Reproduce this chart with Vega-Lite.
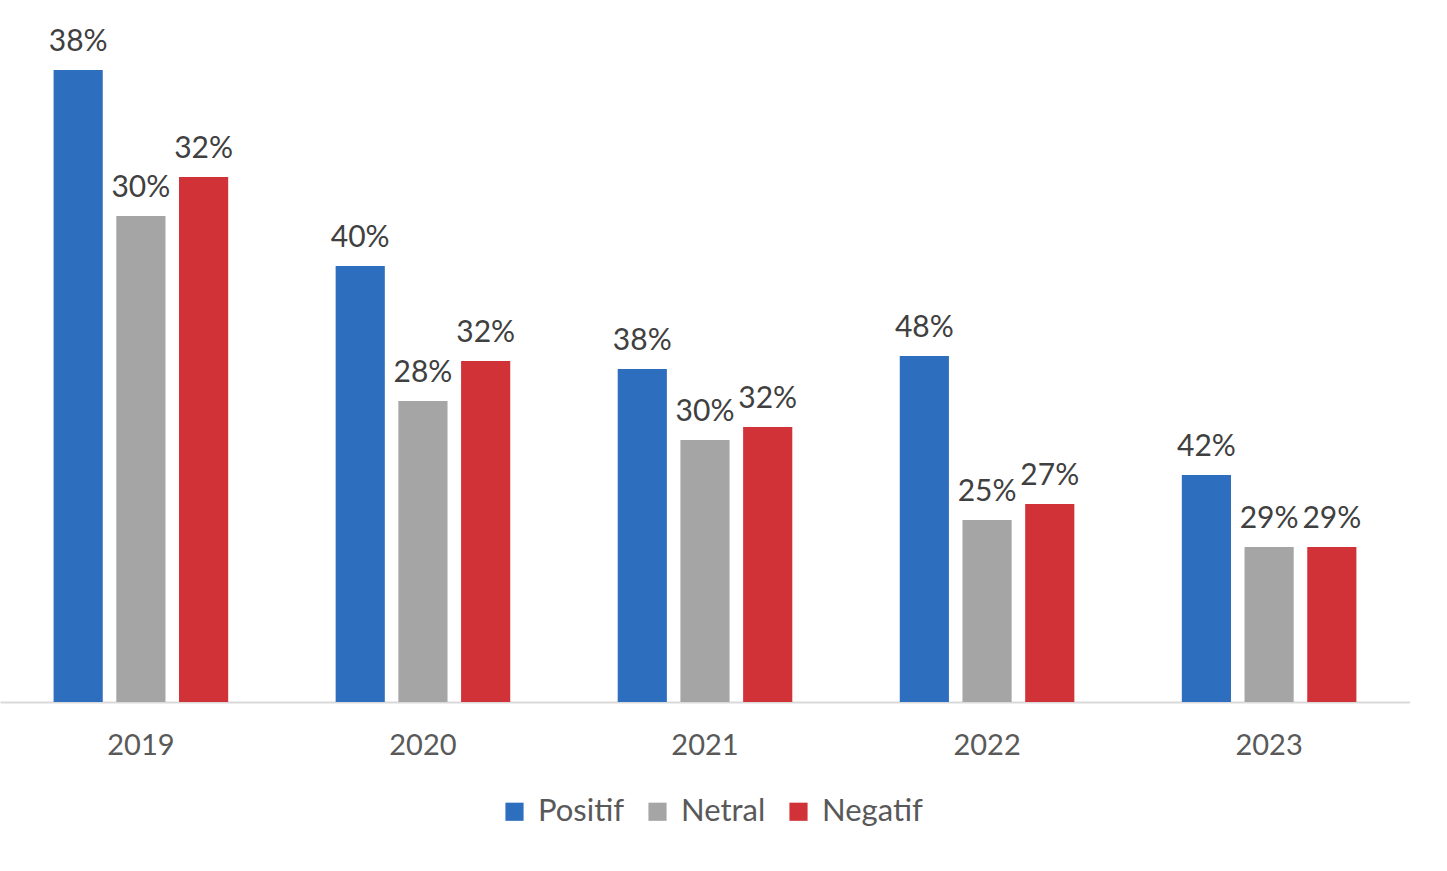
{
  "$schema": "https://vega.github.io/schema/vega-lite/v6.json",
  "width": 1410,
  "height": 700,
  "padding": {"top": 2, "left": 0, "right": 0, "bottom": 0},
  "autosize": {"type": "pad"},
  "background": "white",
  "config": {"view": {"stroke": null}, "font": "Lato"},
  "data": {
    "values": [
      {"tahun": "2019", "sentimen": "Positif", "jumlah": 632, "label": "38%"},
      {"tahun": "2019", "sentimen": "Netral", "jumlah": 486, "label": "30%"},
      {"tahun": "2019", "sentimen": "Negatif", "jumlah": 525, "label": "32%"},
      {"tahun": "2020", "sentimen": "Positif", "jumlah": 436, "label": "40%"},
      {"tahun": "2020", "sentimen": "Netral", "jumlah": 301, "label": "28%"},
      {"tahun": "2020", "sentimen": "Negatif", "jumlah": 341, "label": "32%"},
      {"tahun": "2021", "sentimen": "Positif", "jumlah": 333, "label": "38%"},
      {"tahun": "2021", "sentimen": "Netral", "jumlah": 262, "label": "30%"},
      {"tahun": "2021", "sentimen": "Negatif", "jumlah": 275, "label": "32%"},
      {"tahun": "2022", "sentimen": "Positif", "jumlah": 346, "label": "48%"},
      {"tahun": "2022", "sentimen": "Netral", "jumlah": 182, "label": "25%"},
      {"tahun": "2022", "sentimen": "Negatif", "jumlah": 198, "label": "27%"},
      {"tahun": "2023", "sentimen": "Positif", "jumlah": 227, "label": "42%"},
      {"tahun": "2023", "sentimen": "Netral", "jumlah": 155, "label": "29%"},
      {"tahun": "2023", "sentimen": "Negatif", "jumlah": 155, "label": "29%"}
    ]
  },
  "encoding": {
    "x": {
      "field": "tahun",
      "type": "nominal",
      "scale": {"paddingInner": 0.381, "paddingOuter": 0.19},
      "axis": {
        "title": null,
        "labelAngle": 0,
        "ticks": false,
        "grid": false,
        "domainColor": "#D9D9D9",
        "domainWidth": 2,
        "labelFontSize": 29,
        "labelColor": "#595959",
        "labelPadding": 29
      }
    },
    "xOffset": {
      "field": "sentimen",
      "type": "nominal",
      "sort": ["Positif", "Netral", "Negatif"],
      "scale": {"paddingInner": 0.216, "paddingOuter": 0}
    },
    "y": {
      "field": "jumlah",
      "type": "quantitative",
      "scale": {"domain": [0, 700], "nice": false},
      "axis": null
    }
  },
  "layer": [
    {
      "mark": {"type": "bar"},
      "encoding": {
        "color": {
          "field": "sentimen",
          "type": "nominal",
          "sort": ["Positif", "Netral", "Negatif"],
          "scale": {"domain": ["Positif", "Netral", "Negatif"], "range": ["#2E6EBE", "#A5A5A5", "#D13237"]},
          "legend": {
            "orient": "none",
            "legendX": 499,
            "legendY": 794,
            "direction": "horizontal",
            "title": null,
            "symbolType": "square",
            "symbolSize": 330,
            "symbolStrokeWidth": 0,
            "labelFontSize": 31,
            "labelColor": "#595959",
            "columnPadding": 17,
            "labelOffset": 8
          }
        }
      }
    },
    {
      "mark": {"type": "text", "baseline": "bottom", "dy": -13, "fontSize": 30, "color": "#404040"},
      "encoding": {"text": {"field": "label"}}
    }
  ]
}
